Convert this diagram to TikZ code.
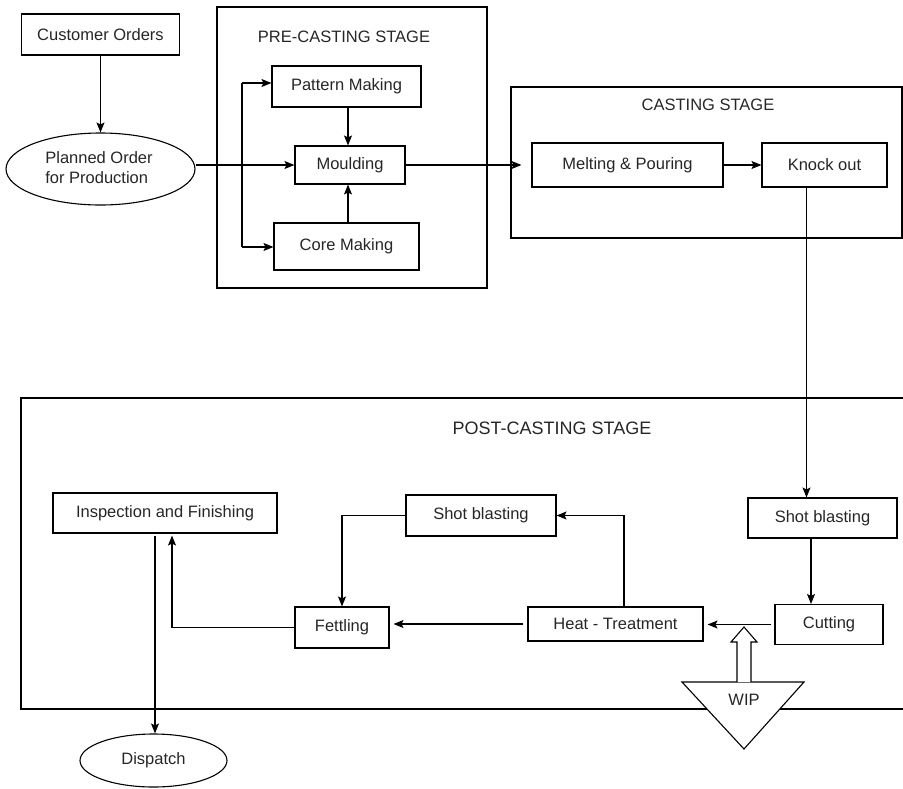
\documentclass[tikz,border=0pt]{standalone}
\usepackage{fontspec}
\setmainfont{Liberation Sans}
\usetikzlibrary{arrows.meta,shapes.geometric}
\begin{document}
\begin{tikzpicture}[x=1pt,y=-1pt,
  every node/.style={font=\fontsize{16.5}{20}\selectfont, inner sep=0pt, text=black!85},
  box/.style={draw, line width=1.1pt, rectangle, align=center},
  oval/.style={draw, line width=1.1pt, ellipse, align=center},
  stage/.style={draw, line width=1.1pt, rectangle},
  ttl/.style={font=\fontsize{16.5}{20}\selectfont},
  ln/.style={line width=1.1pt},
  arr/.style={line width=1.1pt, -{Stealth[length=10pt,width=8pt,inset=2pt]}}]
\useasboundingbox (0,0) rectangle (903,788);

% stage frames
\node[stage, minimum width=270pt, minimum height=281pt] (pre) at (352,147.5) {};
\node[ttl] (pret) at (344,37) {PRE-CASTING STAGE};
\node[stage, minimum width=391pt, minimum height=151pt] (cast) at (706.5,162.5) {};
\node[ttl] (castt) at (708,105) {CASTING STAGE};
\draw[ln] (903,398) -- (21,398) -- (21,709) -- (903,709);
\node[font=\fontsize{18}{22}\selectfont] (postt) at (552,428) {POST-CASTING STAGE};

% nodes
\node[box, minimum width=158pt, minimum height=41pt] (co) at (100.5,34.5) {Customer Orders};
\node[oval, minimum width=189pt, minimum height=72pt] (po) at (100.5,169) {};
\node[align=left] (pot) at (99,168) {Planned Order\\for Production};
\node[box, minimum width=149pt, minimum height=41pt] (pm) at (346.5,86.5) {Pattern Making};
\node[box, minimum width=110pt, minimum height=38pt] (mo) at (350,165) {Moulding};
\node[box, minimum width=145pt, minimum height=47pt] (cm) at (346.5,246.5) {Core Making};
\node[box, minimum width=191pt, minimum height=44pt] (mp) at (627.5,165) {Melting \& Pouring};
\node[box, minimum width=125pt, minimum height=44pt] (ko) at (824.5,165) {Knock out};
\node[box, minimum width=149pt, minimum height=40pt] (sb2) at (822.5,518) {Shot blasting};
\node[box, minimum width=108pt, minimum height=40pt] (cu) at (829,624.5) {Cutting};
\node[box, minimum width=175pt, minimum height=34pt] (ht) at (615.5,624) {Heat - Treatment};
\node[box, minimum width=150pt, minimum height=41pt] (sb1) at (481,515.5) {Shot blasting};
\node[box, minimum width=94pt, minimum height=41pt] (fe) at (342,627.5) {Fettling};
\node[box, minimum width=224pt, minimum height=40pt] (inf) at (165,513) {Inspection and Finishing};
\node[oval, minimum width=147pt, minimum height=53pt] (dis) at (153.5,760.5) {Dispatch};

% WIP
\coordinate (wl) at (682,682);
\coordinate (wr) at (804,682);
\coordinate (wb) at (744,749);
\draw[ln, fill=white] (wl) -- (wr) -- (wb) -- cycle;
\node (wip) at (744,700) {WIP};
\draw[ln, fill=white] (737,682) -- (737,642) -- (731,642) -- (744,627) -- (757,642) -- (751,642) -- (751,682);

% connectors
\draw[arr] (co.south) -- (po.north);
\draw[arr] (po.east |- mo.west) -- (mo.west);
\coordinate (br1) at (242,83);
\coordinate (br2) at (242,247);
\draw[ln] (br1) -- (br2);
\draw[arr] (br1) -- (br1 -| pm.west);
\draw[arr] (br2) -- (br2 -| cm.west);
\draw[arr] ([xshift=1.5pt]pm.south) -- ([xshift=-2pt]mo.north);
\draw[arr] ([xshift=1.5pt]cm.north) -- ([xshift=-2pt]mo.south);
\draw[arr, shorten >=10pt] (mo.east) -- (mp.west);
\draw[arr] (mp.east) -- (ko.west);
\coordinate (kx) at ([xshift=-18pt]ko.south);
\draw[arr] (kx) -- (kx |- sb2.north);
\coordinate (sx) at ([xshift=-11.5pt]sb2.south);
\draw[arr] (sx) -- (sx |- cu.north);
\draw[arr, shorten >=4pt] ([xshift=-3pt]cu.west) -- (cu.west -| ht.east);
\draw[arr, shorten >=4pt] ([xshift=-4pt]ht.west) -- (ht.west -| fe.east);
\draw[arr] ([xshift=8.5pt]ht.north) |- (sb1.east);
\draw[arr] (sb1.west) -| (fe.north);
\draw[arr, shorten >=2pt] (fe.west) -| ([xshift=7pt]inf.south);
\coordinate (ix) at ([xshift=-10pt]inf.south);
\draw[arr, shorten <=2pt] (ix) -- (ix |- dis.north);
\end{tikzpicture}
\end{document}
